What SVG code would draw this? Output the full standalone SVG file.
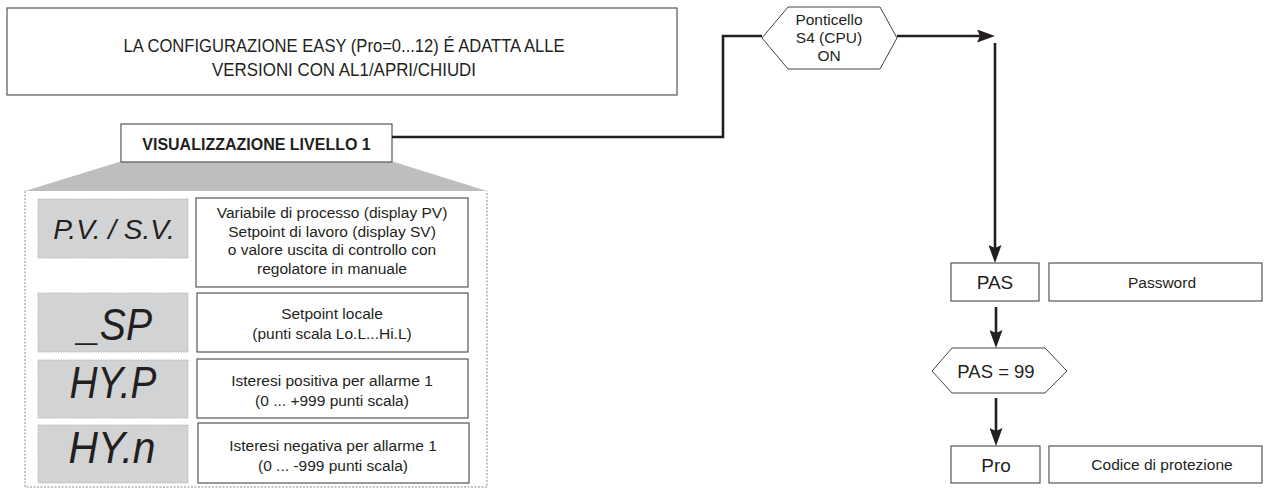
<svg xmlns="http://www.w3.org/2000/svg" width="1267" height="490" viewBox="0 0 1267 490">
<defs>
<style>
.t{font-family:"Liberation Sans",Arial,sans-serif;fill:#231f20;}
.box{fill:#fff;stroke:#555;stroke-width:1.2;}
.seg{fill:#d1d3d4;stroke:#b8b8b8;stroke-width:1;stroke-dasharray:1.5,1;}
.lcd{font-family:"Liberation Sans",Arial,sans-serif;font-style:italic;fill:#231f20;}
.d{font-size:15.5px;text-anchor:middle;}
.conn{fill:none;stroke:#231f20;stroke-width:2.6;}
</style>
<marker id="arr" viewBox="0 0 18 13" refX="12" refY="6.5" markerWidth="18" markerHeight="13" markerUnits="userSpaceOnUse" orient="auto">
<path d="M0,0 L18,6.5 L0,13 L3,6.5 Z" fill="#231f20"/>
</marker>
</defs>
<rect width="1267" height="490" fill="#fff"/>

<g id="title">
<rect class="box" x="7" y="8" width="670" height="87"/>
<text class="t" x="344" y="52" font-size="19" text-anchor="middle" textLength="441" lengthAdjust="spacingAndGlyphs">LA CONFIGURAZIONE EASY (Pro=0...12) É ADATTA ALLE</text>
<text class="t" x="344" y="76" font-size="19" text-anchor="middle" textLength="264" lengthAdjust="spacingAndGlyphs">VERSIONI CON AL1/APRI/CHIUDI</text>
</g>

<g id="level1">
<polygon points="119,162 394,162 487,191 25,191" fill="#bcbec0"/>
<path d="M25,191 V487 H487 V191" fill="none" stroke="#8a8a8a" stroke-width="1" stroke-dasharray="2,1.5"/>
<rect class="box" x="121" y="124" width="271" height="38"/>
<text class="t" x="256.5" y="149.5" font-size="16" font-weight="bold" text-anchor="middle">VISUALIZZAZIONE LIVELLO 1</text>
</g>

<g id="pvsv">
<rect class="seg" x="38" y="199" width="150" height="59"/>
<text class="lcd" x="114" y="239" font-size="28" text-anchor="middle">P.V. / S.V.</text>
<rect class="box" x="196" y="198" width="272" height="89"/>
<text class="t d" x="332" y="218">Variabile di processo (display PV)</text>
<text class="t d" x="332" y="236.5">Setpoint di lavoro (display SV)</text>
<text class="t d" x="332" y="255">o valore uscita di controllo con</text>
<text class="t d" x="332" y="273.5">regolatore in manuale</text>
</g>

<g id="sp">
<rect class="seg" x="38" y="293" width="150" height="59"/>
<text class="lcd" x="115" y="340" font-size="44" text-anchor="middle" textLength="74" lengthAdjust="spacingAndGlyphs">_SP</text>
<rect class="box" x="197" y="293" width="271" height="59"/>
<text class="t d" x="332" y="318.5">Setpoint locale</text>
<text class="t d" x="332" y="338.5">(punti scala Lo.L...Hi.L)</text>
</g>

<g id="hyp">
<rect class="seg" x="38" y="360" width="150" height="58"/>
<text class="lcd" x="113" y="398" font-size="44" text-anchor="middle" textLength="87" lengthAdjust="spacingAndGlyphs">HY.P</text>
<rect class="box" x="197" y="359" width="271" height="59"/>
<text class="t d" x="332" y="385.5">Isteresi positiva per allarme 1</text>
<text class="t d" x="332" y="405.5">(0 ... +999 punti scala)</text>
</g>

<g id="hyn">
<rect class="seg" x="38" y="425" width="150" height="58"/>
<text class="lcd" x="112" y="463" font-size="44" text-anchor="middle" textLength="87" lengthAdjust="spacingAndGlyphs">HY.n</text>
<rect class="box" x="198" y="423" width="271" height="60"/>
<text class="t d" x="333" y="451">Isteresi negativa per allarme 1</text>
<text class="t d" x="333" y="470.5">(0 ... -999 punti scala)</text>
</g>

<g id="ponticello">
<polygon points="762,38 788,7 880,7 897,38 880,69 788,69" fill="#fff" stroke="#444" stroke-width="1"/>
<text class="t d" x="829" y="25">Ponticello</text>
<text class="t d" x="829" y="43">S4 (CPU)</text>
<text class="t d" x="829" y="61">ON</text>
</g>

<g id="pas">
<rect class="box" x="951" y="263" width="88" height="38"/>
<text class="t" x="995" y="289" font-size="19" text-anchor="middle">PAS</text>
<rect class="box" x="1049" y="263" width="213" height="38"/>
<text class="t d" x="1162" y="288">Password</text>
</g>

<g id="pas99">
<polygon points="932,371 952,348 1045,348 1067,371 1045,393 952,393" fill="#fff" stroke="#444" stroke-width="1"/>
<text class="t" x="996" y="378" font-size="18.5" text-anchor="middle">PAS = 99</text>
</g>

<g id="pro">
<rect class="box" x="951" y="446" width="89" height="37"/>
<text class="t" x="996" y="472" font-size="19" text-anchor="middle">Pro</text>
<rect class="box" x="1049" y="446" width="213" height="37"/>
<text class="t d" x="1162" y="470">Codice di protezione</text>
</g>

<g id="connectors">
<path class="conn" d="M392,137 H723 V36 H762"/>
<path class="conn" d="M897,36 H989" marker-end="url(#arr)"/>
<path class="conn" d="M995,43 V257" marker-end="url(#arr)"/>
<path class="conn" d="M996,307 V342" marker-end="url(#arr)"/>
<path class="conn" d="M996,398 V440" marker-end="url(#arr)"/>
</g>
</svg>
